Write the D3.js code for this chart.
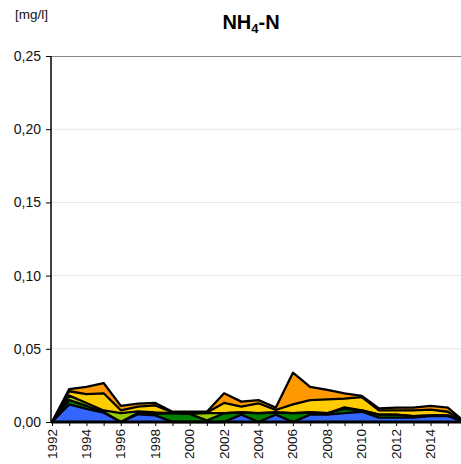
<!DOCTYPE html>
<html><head><meta charset="utf-8">
<script src="https://cdn.jsdelivr.net/npm/d3@7"></script>
<style>body{margin:0;background:#fff}svg{display:block;font-family:"Liberation Sans",Arial,sans-serif}</style>
</head><body>
<svg id="c" width="461" height="464"></svg>
<script>
const years = [1992,1993,1994,1995,1996,1997,1998,1999,2000,2001,2002,2003,2004,2005,2006,2007,2008,2009,2010,2011,2012,2013,2014,2015,2016];
const blue   = [0,.012,.009,.0064,0,.0053,.0045,0,0,0,0,.005,0,.005,0,.005,.005,.006,.007,.003,.003,.003,.004,.004,0];
const dgreen = [0,.003,.002,.0005,0,.001,.001,.006,.0055,.001,.006,.0015,.006,.0015,.006,.0015,.001,.003,.001,.002,.002,.001,.0005,.0005,0];
const lime   = [0,.003,.002,.001,.006,.001,.001,0,0,.005,0,0,0,0,0,0,0,.001,0,0,0,0,0,0,0];
const yellow = [0,.003,.006,.0117,.002,.0032,.0048,.0005,.0005,.0005,.007,.004,.0068,.0017,.0061,.0085,.0095,.006,.009,.003,.003,.004,.004,.0025,0];
const orange = [0,.0015,.005,.007,.003,.0021,.0017,.0005,.001,.0005,.0066,.0034,.0022,.0016,.0216,.009,.0064,.0036,.0008,.0013,.0018,.0018,.0025,.0028,0];
const yTicks = [0,0.05,0.10,0.15,0.20,0.25];
const xTickYears = [1992,1994,1996,1998,2000,2002,2004,2006,2008,2010,2012,2014];

const keys = ["blue","dgreen","lime","yellow","orange"];
const colors = {blue:"#3366ff",dgreen:"#008000",lime:"#99cc00",yellow:"#ffcc00",orange:"#ff9900"};
const series = {blue,dgreen,lime,yellow,orange};
const table = years.map((y,i)=>{const o={year:y};keys.forEach(k=>o[k]=series[k][i]);return o;});

const svg = d3.select("#c");
const x = d3.scaleLinear().domain([1992,2016]).range([52,465]);
const y = d3.scaleLinear().domain([0,0.25]).range([422,56]);

// gridlines
svg.append("g").selectAll("line").data(yTicks.filter(t=>t>0&&t<0.25)).join("line")
  .attr("x1",52).attr("x2",461).attr("y1",d=>y(d)).attr("y2",d=>y(d))
  .attr("stroke","#e6e6e6").attr("stroke-width",1);
// top border
svg.append("line").attr("x1",51).attr("x2",461).attr("y1",56.5).attr("y2",56.5).attr("stroke","#888").attr("stroke-width",1.2);

const stack = d3.stack().keys(keys)(table);
const area = d3.area().x(d=>x(d.data.year)).y0(d=>y(d[0])).y1(d=>y(d[1]));
const line = d3.line().x(d=>x(d.data.year)).y(d=>y(d[1]));
svg.append("g").selectAll("path").data(stack).join("path")
  .attr("d",area).attr("fill",d=>colors[d.key]);
svg.append("g").selectAll("path").data(stack).join("path")
  .attr("d",line).attr("fill","none").attr("stroke","#000").attr("stroke-width",2.3).attr("stroke-linejoin","round");

// y axis
const ya = svg.append("g").attr("transform","translate(51,0)")
  .call(d3.axisLeft(y).tickValues(yTicks).tickSize(5).tickFormat(d=>d3.format(".2f")(d).replace(".",",")));
ya.select(".domain").attr("stroke","#000").attr("stroke-width",1.5).attr("d","M0,56V422");
ya.selectAll("text").attr("font-size",14).attr("fill","#111").attr("x",-10).attr("font-family","Liberation Sans, Arial, sans-serif");

// x axis
const xa = svg.append("g").attr("transform","translate(0,422)")
  .call(d3.axisBottom(x).tickValues(years.slice(0,24)).tickSize(4).tickFormat(""));
xa.select(".domain").attr("stroke","#000").attr("stroke-width",3).attr("d","M51,0H461");
xa.selectAll(".tick line").attr("stroke","#000");
svg.append("g").selectAll("text").data(xTickYears).join("text")
  .attr("transform",d=>`translate(${x(d)+4.5},429) rotate(-90)`)
  .attr("text-anchor","end").attr("font-size",13.5).attr("fill","#111").text(d=>d);

// title
const t = svg.append("text").attr("x",251).attr("y",29).attr("text-anchor","middle")
  .attr("font-size",20).attr("font-weight","bold");
t.append("tspan").text("NH");
t.append("tspan").attr("font-size",13).attr("dy",4).text("4");
t.append("tspan").attr("dy",-4).text("-N");
svg.append("text").attr("x",15).attr("y",19).attr("font-size",13.5).attr("fill","#111").text("[mg/l]");
</script>
</body></html>
